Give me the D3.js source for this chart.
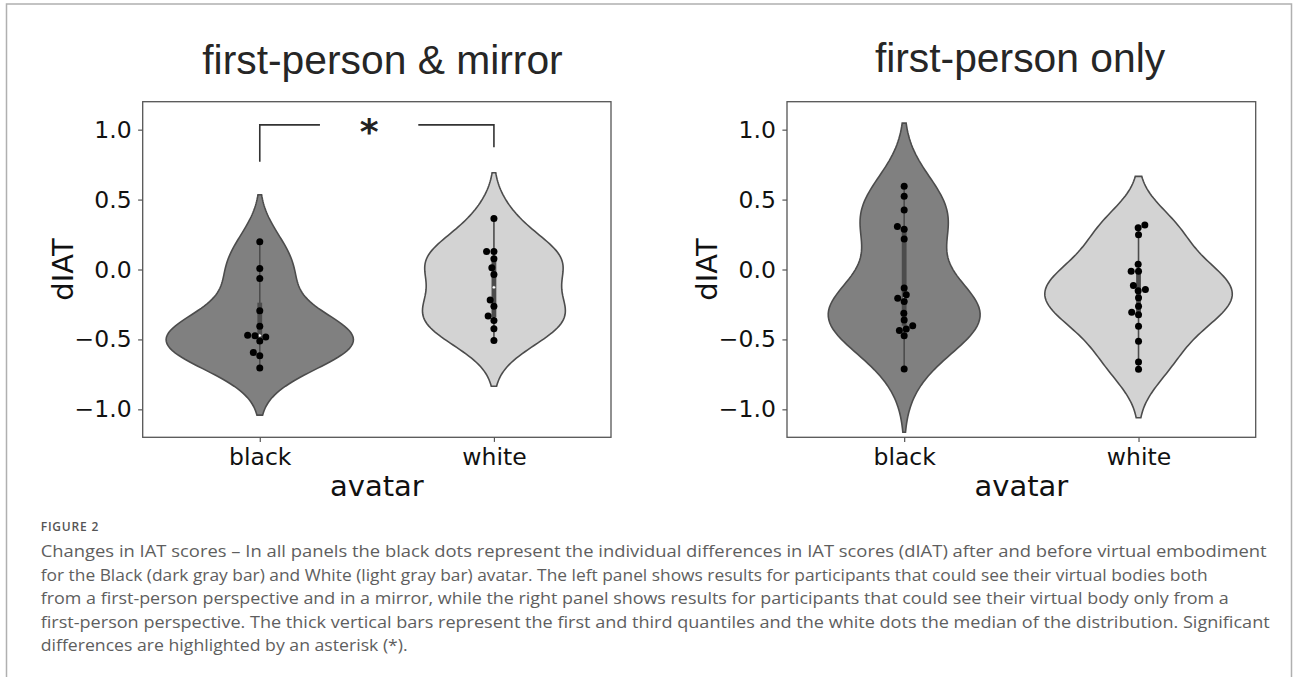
<!DOCTYPE html>
<html><head><meta charset="utf-8">
<script src="https://cdn.jsdelivr.net/npm/d3@7"></script>
<style>body{margin:0;background:#fff} svg{display:block}</style>
</head><body>
<svg id="chart" width="1293" height="683"></svg>
<script>
// ---------- data ----------
const categories = ["black", "white"];
const panelTitles = ["first-person & mirror", "first-person only"];
const yTicks = [-1.0, -0.5, 0.0, 0.5, 1.0];
const mirrorBlack = [0.198, 0.007, -0.064, -0.295, -0.405, -0.474, -0.470, -0.483, -0.512, -0.593, -0.617, -0.705];
const mirrorWhite = [0.364, 0.129, 0.129, 0.076, 0.012, -0.036, -0.219, -0.262, -0.333, -0.364, -0.424, -0.507];
const onlyBlack = [0.595, 0.524, 0.426, 0.307, 0.288, 0.219, -0.133, -0.181, -0.205, -0.229, -0.312, -0.362, -0.402, -0.426, -0.436, -0.474, -0.712];
const onlyWhite = [0.319, 0.298, 0.248, 0.038, -0.012, -0.012, -0.114, -0.143, -0.152, -0.202, -0.262, -0.305, -0.324, -0.405, -0.514, -0.662, -0.714];
const panelData = [[mirrorBlack, mirrorWhite], [onlyBlack, onlyWhite]];
const violinFills = ["#808080", "#d3d3d3"];
// significance bracket (panel 1): y level, drop ends, text gap (category units)
const bracketLevel = 1.034, bracketLeftEnd = 0.771, bracketRightEnd = 0.874;
const bracketGap = [0.257, 0.677];
const sigLabel = "*";
const captionHead = "FIGURE 2";
const captionLines = [
  "Changes in IAT scores \u2013 In all panels the black dots represent the individual differences in IAT scores (dIAT) after and before virtual embodiment",
  "for the Black (dark gray bar) and White (light gray bar) avatar. The left panel shows results for participants that could see their virtual bodies both",
  "from a first-person perspective and in a mirror, while the right panel shows results for participants that could see their virtual body only from a",
  "first-person perspective. The thick vertical bars represent the first and third quantiles and the white dots the median of the distribution. Significant",
  "differences are highlighted by an asterisk (*)."
];
const captionLineWidths = [1226, 1167, 1188, 1229, 367];

// ---------- layout ----------
const svg = d3.select("#chart");
const panels = [
  {x0: 142.7, x1: 611, titleX: 382.5, titleY: 74},
  {x0: 787, x1: 1255.7, titleX: 1020, titleY: 72}
];
const yTop = 101.7, yBot = 437.3;
const lineGray = "#4c4c4c";
const spineColor = "#555";
const fontAxis = "'DejaVu Sans', sans-serif";

// outer frame
svg.append("path")
  .attr("d", `M6.5,677 L6.5,4 L1291.5,4 L1291.5,677`)
  .attr("fill", "none").attr("stroke", "#b0b0b0").attr("stroke-width", 1.5);

function kde(data) {
  const n = data.length;
  const sd = d3.deviation(data);
  const bw = sd * Math.pow(n, -0.2);
  const lo = d3.min(data) - 2 * bw, hi = d3.max(data) + 2 * bw;
  const grid = d3.range(100).map(i => lo + (hi - lo) * i / 99);
  return grid.map(v => [v, d3.mean(data, d => Math.exp(-0.5 * ((v - d) / bw) ** 2)) / (bw * Math.sqrt(2 * Math.PI))]);
}

function swarm(values, cx, yScale, r) {
  const pts = values.map((v, i) => ({v, i, y: yScale(v)}));
  const sorted = pts.slice().sort((a, b) => a.v - b.v);
  const placed = [];
  for (const p of sorted) {
    const neigh = [];
    for (let k = placed.length - 1; k >= 0; k--) {
      if (Math.abs(p.y - placed[k].y) < 2 * r) neigh.push(placed[k]); else break;
    }
    neigh.reverse();
    const cands = [cx];
    let leftFirst = true;
    for (const q of neigh) {
      const dy = p.y - q.y;
      const dx = Math.sqrt(Math.max(4 * r * r - dy * dy, 0)) * 1.05;
      if (leftFirst) cands.push(q.x - dx, q.x + dx); else cands.push(q.x + dx, q.x - dx);
      leftFirst = !leftFirst;
    }
    const order = cands.map((c, k) => ({c, k})).sort((a, b) => (Math.abs(a.c - cx) - Math.abs(b.c - cx)) || (a.k - b.k));
    let chosen = cx;
    for (const {c} of order) {
      if (neigh.every(q => (q.x - c) ** 2 + (q.y - p.y) ** 2 >= 4 * r * r - 1e-6)) { chosen = c; break; }
    }
    p.x = chosen;
    placed.push(p);
  }
  return pts;
}

panels.forEach((P, pi) => {
  const g = svg.append("g");
  const x = d3.scaleLinear().domain([-0.5, 1.5]).range([P.x0, P.x1]);
  const y = d3.scaleLinear().domain([-1.2, 1.2]).range([yBot, yTop]);
  const groups = panelData[pi];
  const dens = groups.map(kde);
  const maxD = d3.max(dens, d => d3.max(d, e => e[1]));
  const halfW = x(0.4) - x(0);

  groups.forEach((vals, ci) => {
    const cx = x(ci);
    const area = d3.area()
      .x0(d => cx - halfW * d[1] / maxD)
      .x1(d => cx + halfW * d[1] / maxD)
      .y(d => y(d[0]));
    g.append("path").attr("d", area(dens[ci]))
      .attr("fill", violinFills[ci]).attr("stroke", lineGray).attr("stroke-width", 1.6);

    // inner box
    const s = vals.slice().sort(d3.ascending);
    const q1 = d3.quantileSorted(s, 0.25), q3 = d3.quantileSorted(s, 0.75), med = d3.quantileSorted(s, 0.5);
    const iqr = q3 - q1;
    const lo = d3.min(s.filter(v => v >= q1 - 1.5 * iqr));
    const hi = d3.max(s.filter(v => v <= q3 + 1.5 * iqr));
    g.append("line").attr("x1", cx).attr("x2", cx).attr("y1", y(lo)).attr("y2", y(hi))
      .attr("stroke", lineGray).attr("stroke-width", 1.6);
    g.append("line").attr("x1", cx).attr("x2", cx).attr("y1", y(q1)).attr("y2", y(q3))
      .attr("stroke", lineGray).attr("stroke-width", 4.8);
    g.append("circle").attr("cx", cx).attr("cy", y(med)).attr("r", 1.6)
      .attr("fill", "#fff").attr("stroke", lineGray).attr("stroke-width", 0.5);

    // swarm
    const pts = swarm(vals, cx, y, 3.5);
    g.selectAll(null).data(pts).enter().append("circle")
      .attr("cx", d => d.x).attr("cy", d => d.y).attr("r", 3.5).attr("fill", "#000");
  });

  // spines
  g.append("rect").attr("x", P.x0).attr("y", yTop).attr("width", P.x1 - P.x0).attr("height", yBot - yTop)
    .attr("fill", "none").attr("stroke", spineColor).attr("stroke-width", 1.3);

  // axes
  const ya = g.append("g").attr("transform", `translate(${P.x0},0)`)
    .call(d3.axisLeft(y).tickValues(yTicks).tickFormat(d3.format(".1f")).tickSize(4.6).tickPadding(6.5));
  const xa = g.append("g").attr("transform", `translate(0,${yBot})`)
    .call(d3.axisBottom(x).tickValues([0, 1]).tickFormat(i => categories[i]).tickSize(4.6).tickPadding(6.5));
  [ya, xa].forEach(a => {
    a.select(".domain").remove();
    a.selectAll(".tick line").attr("stroke", spineColor).attr("stroke-width", 1.2);
    a.selectAll(".tick text").attr("font-family", fontAxis).attr("font-size", 23.5).attr("fill", "#111");
  });

  // labels
  g.append("text").attr("x", (P.x0 + P.x1) / 2).attr("y", 496).attr("text-anchor", "middle")
    .attr("font-family", fontAxis).attr("font-size", 29).attr("fill", "#111").text("avatar");
  g.append("text").attr("transform", `translate(${P.x0 - 70},${(yTop + yBot) / 2}) rotate(-90)`)
    .attr("text-anchor", "middle").attr("font-family", fontAxis).attr("font-size", 29).attr("fill", "#111").text("dIAT");
  g.append("text").attr("x", P.titleX).attr("y", P.titleY).attr("text-anchor", "middle")
    .attr("font-family", "'Liberation Sans', Arial, sans-serif").attr("font-size", 40.8).attr("fill", "#262626")
    .text(panelTitles[pi]);

  // significance bracket
  if (pi === 0) {
    const by = y(bracketLevel);
    g.append("path").attr("d", `M${x(0)},${y(bracketLeftEnd)} L${x(0)},${by} L${x(bracketGap[0])},${by}`)
      .attr("fill", "none").attr("stroke", "#333").attr("stroke-width", 1.6);
    g.append("path").attr("d", `M${x(bracketGap[1])},${by} L${x(1)},${by} L${x(1)},${y(bracketRightEnd)}`)
      .attr("fill", "none").attr("stroke", "#333").attr("stroke-width", 1.6);
    g.append("text").attr("x", x((bracketGap[0] + bracketGap[1]) / 2)).attr("y", by + 19)
      .attr("text-anchor", "middle").attr("font-family", fontAxis).attr("font-weight", "bold")
      .attr("font-size", 36).attr("fill", "#222").text(sigLabel);
  }
});

// caption
svg.append("text").attr("x", 40.7).attr("y", 531).attr("font-family", "'Open Sans', sans-serif")
  .attr("font-size", 12).attr("font-weight", 600).attr("letter-spacing", 0.8).attr("fill", "#555").text(captionHead);
const cap = svg.append("g");
captionLines.forEach((t, i) => cap.append("text").attr("x", 40.7).attr("y", 557 + i * 23.5)
  .attr("font-family", "'Open Sans', sans-serif").attr("font-size", 16.2).attr("fill", "#5e5e5e")
  .attr("textLength", captionLineWidths[i]).attr("lengthAdjust", "spacingAndGlyphs").text(t));
</script>
</body></html>
